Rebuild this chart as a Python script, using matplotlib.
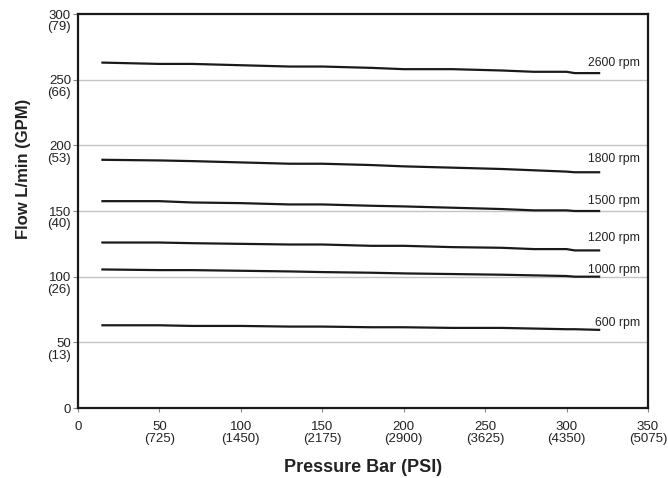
import matplotlib
matplotlib.use("Agg")
import matplotlib.pyplot as plt

pressure = [15, 50, 70, 100, 130, 150, 180, 200, 230, 260, 280, 300, 305, 320]
flow_2600 = [263, 262, 262, 261, 260, 260, 259, 258, 258, 257, 256, 256, 255, 255]
flow_1800 = [189, 188.5, 188, 187, 186, 186, 185, 184, 183, 182, 181, 180, 179.5, 179.5]
flow_1500 = [157.5, 157.5, 156.5, 156, 155, 155, 154, 153.5, 152.5, 151.5, 150.5, 150.5, 150, 150]
flow_1200 = [126, 126, 125.5, 125, 124.5, 124.5, 123.5, 123.5, 122.5, 122, 121, 121, 120, 120]
flow_1000 = [105.5, 105, 105, 104.5, 104, 103.5, 103, 102.5, 102, 101.5, 101, 100.5, 100, 100]
flow_600 = [63, 63, 62.5, 62.5, 62, 62, 61.5, 61.5, 61, 61, 60.5, 60, 60, 59.5]
series = [("2600 rpm", flow_2600, 263), ("1800 rpm", flow_1800, 189.5),
          ("1500 rpm", flow_1500, 158), ("1200 rpm", flow_1200, 129.5),
          ("1000 rpm", flow_1000, 105), ("600 rpm", flow_600, 64.5)]

x_ticks = [0, 50, 100, 150, 200, 250, 300, 350]
x_labels = ["0", "50\n(725)", "100\n(1450)", "150\n(2175)", "200\n(2900)", "250\n(3625)", "300\n(4350)", "350\n(5075)"]
y_ticks = [0, 50, 100, 150, 200, 250, 300]
y_labels = ["0", "50", "100", "150", "200", "250", "300"]
y_gpm = ["", "(13)", "(26)", "(40)", "(53)", "(66)", "(79)"]

plt.rcParams['font.family'] = ['Liberation Sans', 'DejaVu Sans']
fig = plt.figure(figsize=(6.68, 4.78), dpi=100)
ax = fig.add_axes([0.1168, 0.1464, 0.8532, 0.8243])
ax.set_xlim(0, 350)
ax.set_ylim(0, 300)
for y in [50, 100, 150, 200, 250]:
    ax.axhline(y, color="#c4c4c4", lw=1, zorder=1)
for name, vals, ly in series:
    ax.plot(pressure, vals, color="#1a1a1a", lw=1.6, zorder=3)
    ax.text(345, ly, name, ha="right", va="center", fontsize=8.8, color="#222222")
ax.set_xticks(x_ticks)
ax.set_xticklabels(x_labels, fontsize=9.5, color="#222222", linespacing=1.0)
ax.set_yticks(y_ticks)
ax.set_yticklabels(y_labels, fontsize=9.5, color="#222222")
for yv, g in zip(y_ticks, y_gpm):
    if g:
        ax.annotate(g, xy=(0, yv), xycoords=("axes fraction", "data"),
                    xytext=(-5.5, -9.5), textcoords="offset points",
                    ha="right", va="center", fontsize=9.5, color="#222222",
                    annotation_clip=False)
ax.tick_params(axis="y", length=3.5, width=0.8, color="#888888", pad=1.5)
ax.tick_params(axis="x", length=3, width=0.8, color="#888888", pad=6)
for s in ax.spines.values():
    s.set_linewidth(1.6)
    s.set_color("#1a1a1a")
fig.text(363 / 668, 1 - 467 / 478, "Pressure Bar (PSI)", fontsize=13, fontweight="bold",
         ha="center", va="center", color="#222222")
fig.text(23.5 / 668, 1 - 169 / 478, "Flow L/min (GPM)", fontsize=12, fontweight="bold",
         ha="center", va="center", rotation=90, color="#222222")
fig.savefig("out.png", dpi=100)
